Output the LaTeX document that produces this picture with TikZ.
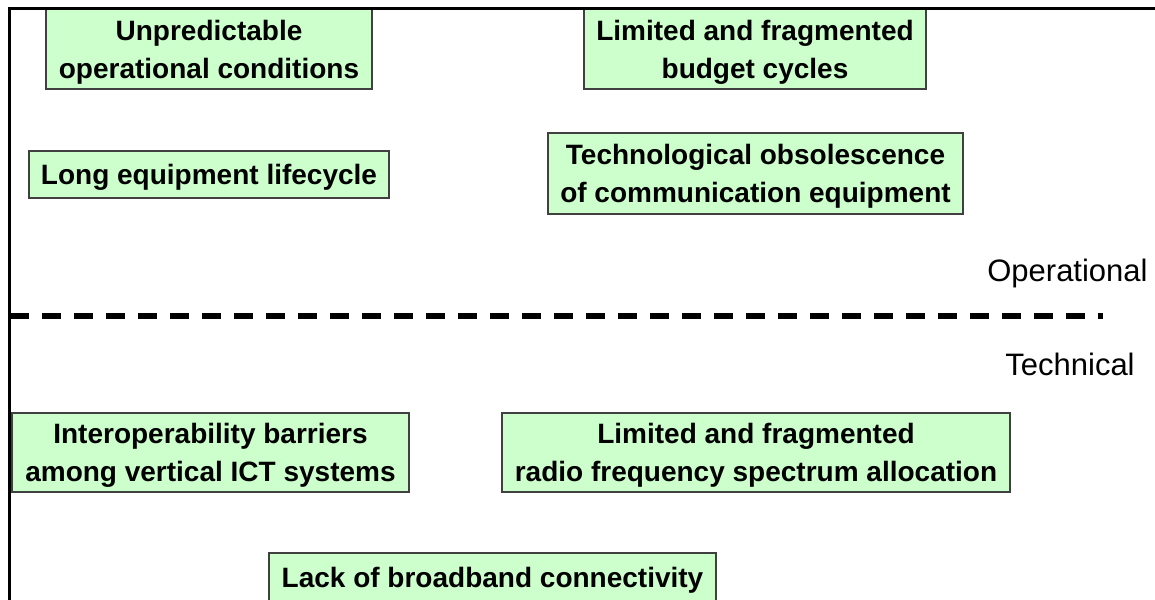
\documentclass[tikz,border=0pt]{standalone}
\usepackage{fontspec}
\setmainfont{Liberation Sans}
\begin{document}
\begin{tikzpicture}[x=0.5pt,y=-0.5pt,
  factor/.style={draw=black!75, line width=0.9pt, fill=green!20, inner sep=0pt,
    align=center, text depth=0pt, font=\fontsize{14pt}{19pt}\selectfont\bfseries},
  layer/.style={inner sep=0pt, font=\fontsize{15.5pt}{18pt}\selectfont},
  frame/.style={line width=1.5pt, black},
  divider/.style={line width=3pt, dash pattern=on 9.5pt off 6.5pt}]
\useasboundingbox (0,0) rectangle (1155,599);

% operational factors
\node[factor, minimum width=163pt, minimum height=40pt] (unpred) at (209,49)
  {Unpredictable\\operational conditions};
\node[factor, minimum width=171pt, minimum height=40pt] (budget) at (755,49)
  {Limited and fragmented\\budget cycles};
\node[factor, minimum width=180pt, minimum height=23.5pt] (lifecycle) at (209,174.5)
  {Long equipment lifecycle};
\node[factor, minimum width=207.5pt, minimum height=40.5pt] (obsol) at (755.5,173.5)
  {Technological obsolescence\\of communication equipment};

% technical factors
\node[factor, minimum width=198.5pt, minimum height=39.5pt] (interop) at (210.5,452.5)
  {Interoperability barriers\\among vertical ICT systems};
\node[factor, minimum width=254pt, minimum height=39.5pt] (spectrum) at (756,452.5)
  {Limited and fragmented\\radio frequency spectrum allocation};
\node[factor, minimum width=223.5pt, minimum height=24.5pt] (broadband) at (492.5,577.5)
  {Lack of broadband connectivity};

% layer labels and separator
\node[layer, anchor=east] (oplabel) at (1148,273) {Operational};
\node[layer, anchor=east] (techlabel) at (1135,364) {Technical};
\coordinate (divL) at (10,316);
\coordinate (divR) at (1103,316);
\draw[divider] (divL) -- (divR);

% outer frame (left and top edges)
\coordinate (frameB) at (9,600);
\coordinate (frameC) at (9,9);
\coordinate (frameR) at (1156,9);
\draw[frame] (frameB) -- (frameC) -- (frameR);
\end{tikzpicture}
\end{document}
